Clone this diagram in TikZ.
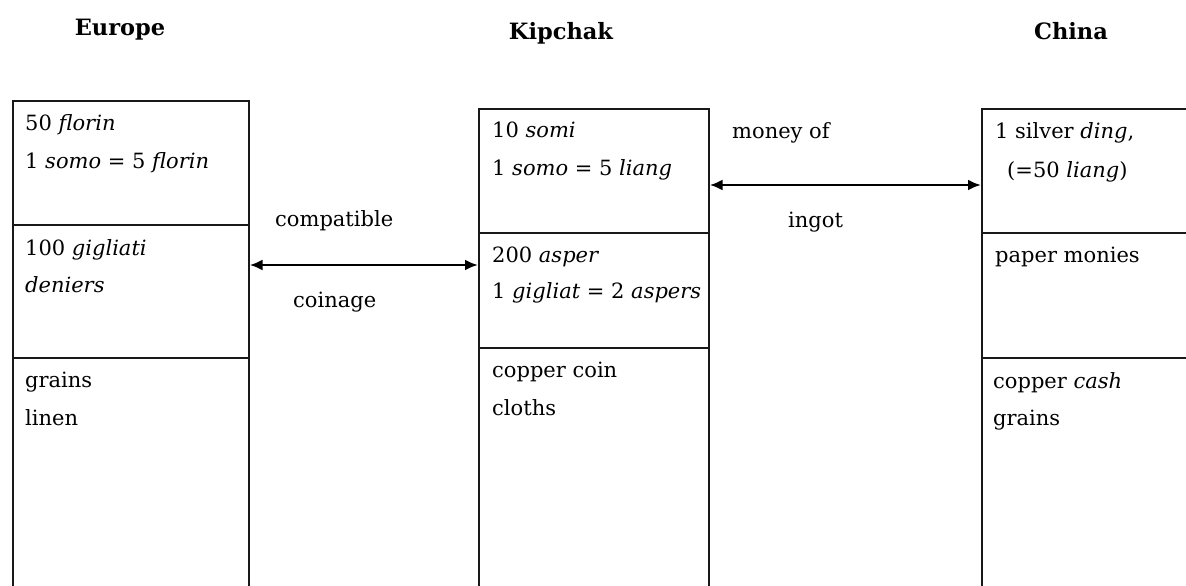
\documentclass[tikz,border=0pt]{standalone}
\usepackage{fontspec}
\setmainfont{DejaVu Serif}
\usetikzlibrary{arrows.meta}
\tikzset{
  cell/.style={draw=black!90, line width=1.6pt, rectangle, inner sep=0pt, anchor=north west},
  txt/.style={anchor=base west, inner sep=0pt, font=\fontsize{21}{25}\selectfont},
  head/.style={anchor=base, inner sep=0pt, font=\fontsize{22.5}{27}\selectfont\bfseries},
  link/.style={line width=2.6pt, {Latex[length=13pt,width=11pt]}-{Latex[length=13pt,width=11pt]}}
}
\begin{document}
\begin{tikzpicture}[x=1pt,y=-1pt]
\useasboundingbox (0,0) rectangle (1186,586);
% headers
\node[head] (hEu) at (120,36) {Europe};
\node[head] (hKi) at (561,40) {Kipchak};
\node[head] (hCh) at (1071,40) {China};
% Europe cells
\node[cell, minimum width=236pt, minimum height=124pt] (eu1) at (12,100) {};
\node[cell, minimum width=236pt, minimum height=133pt] (eu2) at (12,224) {};
\node[cell, minimum width=236pt, minimum height=240pt] (eu3) at (12,357) {};
% Kipchak cells
\node[cell, minimum width=230pt, minimum height=124pt] (kp1) at (478,108) {};
\node[cell, minimum width=230pt, minimum height=115pt] (kp2) at (478,232) {};
\node[cell, minimum width=230pt, minimum height=250pt] (kp3) at (478,347) {};
% China cells
\node[cell, minimum width=215pt, minimum height=124pt] (ch1) at (981,108) {};
\node[cell, minimum width=215pt, minimum height=125pt] (ch2) at (981,232) {};
\node[cell, minimum width=215pt, minimum height=240pt] (ch3) at (981,357) {};
% Europe texts
\node[txt] (e1) at (25,130) {50 \textit{florin}};
\node[txt] (e2) at (25,168) {1 \textit{somo} = 5 \textit{florin}};
\node[txt] (e3) at (25,255) {100 \textit{gigliati}};
\node[txt] (e4) at (25,292) {\textit{deniers}};
\node[txt] (e5) at (25,387) {grains};
\node[txt] (e6) at (25,425) {linen};
% Kipchak texts
\node[txt] (k1) at (492,137) {10 \textit{somi}};
\node[txt] (k2) at (492,175) {1 \textit{somo} = 5 \textit{liang}};
\node[txt] (k3) at (492,262) {200 \textit{asper}};
\node[txt] (k4) at (492,298) {1 \textit{gigliat} = 2 \textit{aspers}};
\node[txt] (k5) at (492,377) {copper coin};
\node[txt] (k6) at (492,415) {cloths};
% China texts
\node[txt] (c1) at (995,138) {1 silver \textit{ding},};
\node[txt] (c2) at (1007,177) {(=50 \textit{liang})};
\node[txt] (c3) at (995,262) {paper monies};
\node[txt] (c4) at (993,388) {copper \textit{cash}};
\node[txt] (c5) at (993,425) {grains};
% connector labels
\node[txt] (l1) at (275,226) {compatible};
\node[txt] (l2) at (293,307) {coinage};
\node[txt] (l3) at (732,138) {money of};
\node[txt] (l4) at (788,227) {ingot};
% connectors
\coordinate (ya) at (0,265);
\coordinate (yb) at (0,185);
\draw[link] (eu2.east |- ya) -- (kp2.west |- ya);
\draw[link] (kp1.east |- yb) -- (ch1.west |- yb);
\end{tikzpicture}
\end{document}
